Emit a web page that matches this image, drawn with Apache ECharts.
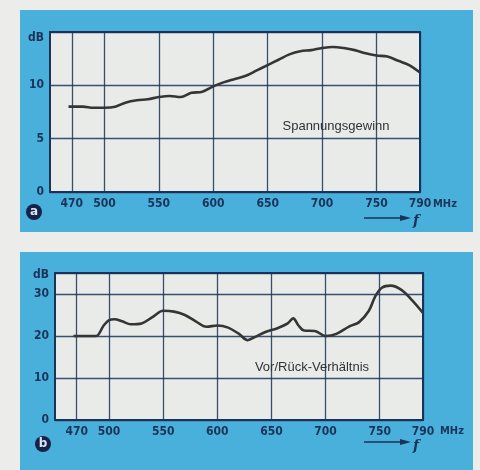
<!DOCTYPE html>
<html>
<head>
<meta charset="utf-8">
<script src="https://cdn.jsdelivr.net/npm/echarts@6/dist/echarts.min.js"></script>
<style>
  html, body { margin: 0; padding: 0; background: #ecedea; }
  #chart { width: 480px; height: 470px; }
</style>
</head>
<body>
<div id="chart"></div>
<script>
// chart a: Spannungsgewinn (dB) over f (MHz)
var freqA = [467, 480, 490, 500, 510, 520, 530, 540, 550, 560, 570, 580, 590, 600, 610, 620, 630,
  640, 650, 660, 670, 680, 690, 700, 710, 720, 730, 740, 750, 760, 770, 780, 790];
var gainA = [8.0, 8.0, 7.9, 7.9, 8.0, 8.4, 8.6, 8.7, 8.9, 9.0, 8.9, 9.3, 9.4, 9.9, 10.3, 10.6, 10.9,
  11.4, 11.9, 12.4, 12.9, 13.2, 13.3, 13.5, 13.6, 13.5, 13.3, 13.0, 12.8, 12.7, 12.3, 11.9, 11.2];

// chart b: Vor/Rück-Verhältnis (dB) over f (MHz)
var freqB = [467, 480, 488, 495, 500, 505, 512, 520, 530, 540, 550, 560, 570, 580, 590, 600, 610,
  620, 628, 635, 645, 655, 665, 670, 675, 680, 690, 700, 710, 722, 731, 740, 746, 752, 760, 770, 780, 790];
var ratioB = [20, 20, 20, 22.5, 23.8, 24, 23.5, 22.8, 23, 24.5, 26, 25.8, 25, 23.5, 22.2, 22.5, 22,
  20.5, 19, 19.8, 21, 21.8, 23, 24.2, 22.5, 21.3, 21.2, 20, 20.5, 22.3, 23.3, 26, 29.5, 31.5, 32, 31, 28.5, 25.5];

var freqTicks = [470, 500, 550, 600, 650, 700, 750, 790];

var navy = '#1b3358';
var blue = '#49b0dc';
var ink = '#353535';
var numFont = '"DejaVu Sans Condensed", "DejaVu Sans", sans-serif';

function pairs(xs, ys) {
  return xs.map(function (x, i) { return [x, ys[i]]; });
}

function xAxisFor(idx) {
  return {
    type: 'value', gridIndex: idx, min: 450, max: 790,
    axisLine: { show: false },
    axisTick: { show: false, customValues: freqTicks },
    axisLabel: {
      customValues: freqTicks, color: navy, fontFamily: numFont,
      fontWeight: 'bold', fontSize: 12, margin: 6
    },
    splitLine: { show: true, lineStyle: { color: navy, width: 1.3, opacity: 0.85 } }
  };
}

function yAxisFor(idx, max, interval, top) {
  return {
    type: 'value', gridIndex: idx, min: 0, max: max, interval: interval,
    axisLine: { show: false },
    axisTick: { show: false },
    axisLabel: {
      color: navy, fontFamily: numFont, fontWeight: 'bold', fontSize: 12, margin: 6,
      formatter: function (v) { return v === top ? '{d|dB}' : String(v); },
      rich: { d: { color: navy, fontFamily: numFont, fontWeight: 'bold', fontSize: 12, padding: [idx ? 4 : 12, 0, 0, 0] } }
    },
    splitLine: { show: true, lineStyle: { color: navy, width: 1.3, opacity: 0.85 } }
  };
}

function curve(idx, data) {
  return {
    type: 'line', xAxisIndex: idx, yAxisIndex: idx,
    data: data, smooth: 0.35, symbol: 'none', silent: true,
    lineStyle: { color: ink, width: 2.6 }
  };
}

function arrowGroup(y, fy) {
  return [
    { type: 'line', shape: { x1: 364, y1: y, x2: 402, y2: y }, style: { stroke: navy, lineWidth: 1.5 } },
    { type: 'polygon', shape: { points: [[400, y - 3], [411, y], [400, y + 3]] }, style: { fill: navy } },
    { type: 'text', x: 416, y: fy, style: { text: 'f', font: 'italic bold 14px "DejaVu Serif", serif', fill: navy, align: 'center', verticalAlign: 'middle' } }
  ];
}

function badge(cx, cy, letter) {
  return [
    { type: 'circle', shape: { cx: cx, cy: cy, r: 8 }, style: { fill: '#15224a' } },
    { type: 'text', x: cx, y: cy, style: { text: letter, font: 'bold 12px "DejaVu Sans", sans-serif', fill: '#d8e4f0', align: 'center', verticalAlign: 'middle' } }
  ];
}

var chart = echarts.init(document.getElementById('chart'));

var graphics = [
  { type: 'rect', z: -10, shape: { x: 20, y: 10, width: 453, height: 222 }, style: { fill: blue } },
  { type: 'rect', z: -10, shape: { x: 20, y: 252, width: 453, height: 218 }, style: { fill: blue } },
  { type: 'text', x: 336, y: 126, z: 10, style: { text: 'Spannungsgewinn', font: '13px "Liberation Sans", Arial, sans-serif', fill: '#2f3338', align: 'center', verticalAlign: 'middle' } },
  { type: 'text', x: 312, y: 367, z: 10, style: { text: 'Vor/Rück-Verhältnis', font: '13px "Liberation Sans", Arial, sans-serif', fill: '#2f3338', align: 'center', verticalAlign: 'middle' } },
  { type: 'text', x: 433, y: 204, style: { text: 'MHz', font: 'bold 11px ' + numFont, fill: navy, verticalAlign: 'middle' } },
  { type: 'text', x: 440, y: 431, style: { text: 'MHz', font: 'bold 11px ' + numFont, fill: navy, verticalAlign: 'middle' } }
].concat(arrowGroup(218, 221), arrowGroup(442, 446), badge(34, 212, 'a'), badge(43, 444, 'b'));

chart.setOption({
  animation: false,
  backgroundColor: '#ecedea',
  graphic: { elements: graphics },
  grid: [
    { left: 50, top: 32, width: 370, height: 160, show: true, backgroundColor: '#e8ebe8', borderColor: navy, borderWidth: 2 },
    { left: 55, top: 273, width: 368, height: 147, show: true, backgroundColor: '#e8ebe8', borderColor: navy, borderWidth: 2 }
  ],
  xAxis: [xAxisFor(0), xAxisFor(1)],
  yAxis: [yAxisFor(0, 15, 5, 15), yAxisFor(1, 35, 10, 35)],
  series: [
    curve(0, pairs(freqA, gainA)),
    curve(1, pairs(freqB, ratioB))
  ]
});
</script>
</body>
</html>
